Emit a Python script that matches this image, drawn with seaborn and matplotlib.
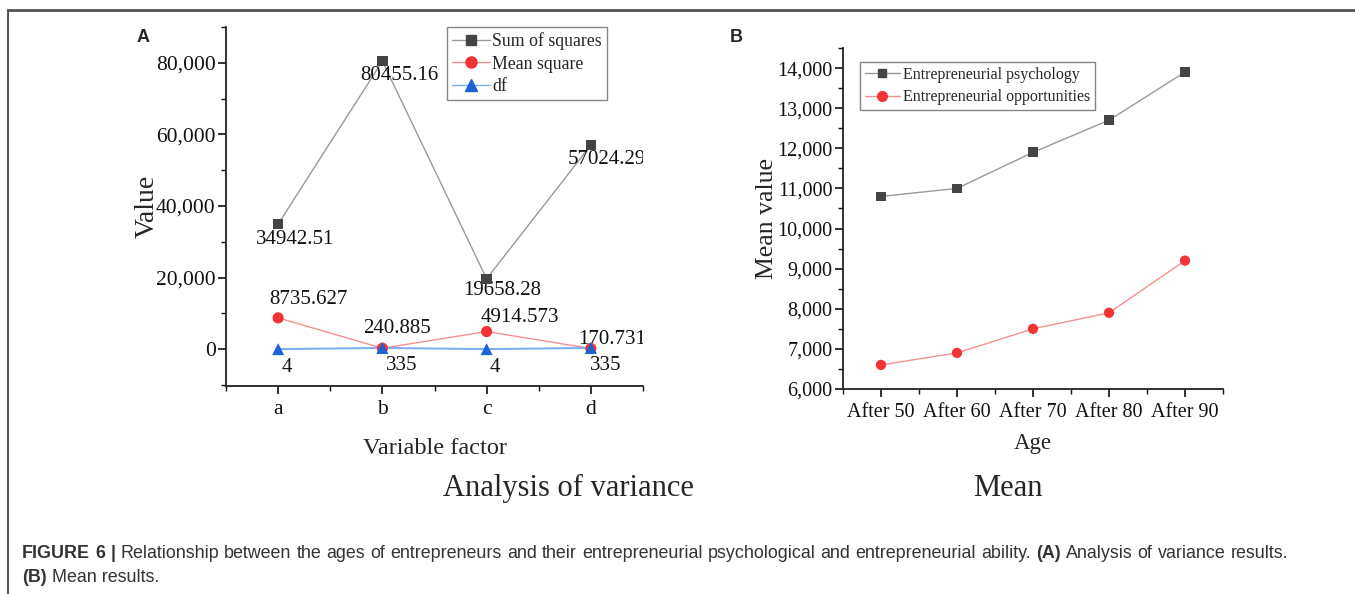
import matplotlib
matplotlib.use("Agg")
import matplotlib.pyplot as plt
from matplotlib.ticker import MultipleLocator, FuncFormatter
from matplotlib.lines import Line2D
import seaborn as sns
import pandas as pd

# ---- data -------------------------------------------------------------
factors = ["a", "b", "c", "d"]
sum_of_squares = [34942.51, 80455.16, 19658.28, 57024.29]
mean_square = [8735.627, 240.885, 4914.573, 170.731]
df_values = [4, 335, 4, 335]

ages = ["After 50", "After 60", "After 70", "After 80", "After 90"]
psychology = [10800, 11000, 11900, 12700, 13900]
opportunities = [6600, 6900, 7500, 7900, 9200]

sns.set_style("ticks")
plt.rcParams["font.family"] = ["Liberation Serif", "DejaVu Serif"]

W, H = 1355, 594
fig = plt.figure(figsize=(W / 100, H / 100), dpi=100)


def fx(px):
    return px / W


def fy(py):
    return 1 - py / H


thousands = FuncFormatter(lambda v, _: f"{v:,.0f}")

GRAY_M, GRAY_L = "#444444", "#9a9a9a"
RED_M, RED_L = "#f03434", "#f59090"
BLUE_M, BLUE_L = "#1d63d6", "#7fb0ee"


def style_axes(ax):
    sns.despine(ax=ax)
    for s in ("left", "bottom"):
        ax.spines[s].set_linewidth(1.3)
        ax.spines[s].set_color("#222222")
    ax.tick_params(which="major", direction="out", length=6, width=1.2,
                   pad=1.5, colors="#111111")
    ax.tick_params(which="minor", direction="out", length=3.5, width=1.0,
                   colors="#111111")
    ax.tick_params(axis="x", which="major", pad=4)
    ax.set_facecolor("white")


# ---- panel A : analysis of variance ----------------------------------
axA = fig.add_axes([fx(226), fy(386), fx(643) - fx(226), fy(27) - fy(386)])
xA = list(range(len(factors)))
dA = pd.DataFrame({"x": xA, "ss": sum_of_squares,
                   "ms": mean_square, "df": df_values})

sns.lineplot(data=dA, x="x", y="ss", ax=axA, color=GRAY_L, lw=1.0)
sns.scatterplot(data=dA, x="x", y="ss", ax=axA, color=GRAY_M, marker="s",
                s=55, edgecolor="none", zorder=5)
sns.lineplot(data=dA, x="x", y="ms", ax=axA, color=RED_L, lw=1.0)
sns.scatterplot(data=dA, x="x", y="ms", ax=axA, color=RED_M, marker="o",
                s=65, edgecolor="none", zorder=5)
sns.lineplot(data=dA, x="x", y="df", ax=axA, color=BLUE_L, lw=1.5)
sns.scatterplot(data=dA, x="x", y="df", ax=axA, color=BLUE_M, marker="^",
                s=75, edgecolor="none", zorder=6)

axA.set_xlim(-0.5, 3.5)
axA.set_ylim(-10300, 90000)
axA.set_xticks(xA)
axA.set_xticklabels(factors)
axA.xaxis.set_minor_locator(MultipleLocator(0.5))
axA.yaxis.set_major_locator(MultipleLocator(20000))
axA.yaxis.set_minor_locator(MultipleLocator(10000))
axA.yaxis.set_major_formatter(thousands)
style_axes(axA)
axA.tick_params(axis="both", which="major", labelsize=15.5)
axA.set_xlabel("Variable factor", fontsize=17.5, labelpad=14)
axA.set_ylabel("Value", fontsize=20, labelpad=-2.5)

label_kw = dict(textcoords="offset pixels", ha="center", va="center",
                fontsize=15, color="#111111", annotation_clip=False,
                clip_on=True)
ss_off = [(17, -15), (17, -14), (16, -12), (16, -14)]
ms_off = [(30, 18), (15, 20), (33, 14), (21, 9)]
df_off = [(9, -18), (19, -18), (8, -18), (15, -18)]
for i in xA:
    axA.annotate(f"{sum_of_squares[i]:.2f}", (i, sum_of_squares[i]),
                 xytext=ss_off[i], **label_kw)
    axA.annotate(f"{mean_square[i]:.3f}", (i, mean_square[i]),
                 xytext=ms_off[i], **label_kw)
    axA.annotate(f"{df_values[i]}", (i, df_values[i]),
                 xytext=df_off[i], **label_kw)

handlesA = [
    Line2D([], [], color=GRAY_L, lw=1.0, marker="s", mfc=GRAY_M, mec=GRAY_M,
           ms=7),
    Line2D([], [], color=RED_L, lw=1.0, marker="o", mfc=RED_M, mec=RED_M,
           ms=8),
    Line2D([], [], color=BLUE_L, lw=1.0, marker="^", mfc=BLUE_M, mec=BLUE_M,
           ms=8),
]
legA = axA.legend(handlesA, ["Sum of squares", "Mean square", "df"],
                  loc="upper left",
                  bbox_to_anchor=((447 - 226) / (643 - 226), 1.0),
                  fontsize=12.8, frameon=True, fancybox=False,
                  handlelength=2.1, handletextpad=0.15, labelspacing=0.3,
                  borderpad=0.3, borderaxespad=0)
legA.get_frame().set_edgecolor("#666666")
legA.get_frame().set_linewidth(1.0)

# ---- panel B : means by age group ------------------------------------
axB = fig.add_axes([fx(843), fy(389), fx(1223) - fx(843), fy(48) - fy(389)])
xB = list(range(len(ages)))
dB = pd.DataFrame({"x": xB, "psy": psychology, "opp": opportunities})

sns.lineplot(data=dB, x="x", y="psy", ax=axB, color=GRAY_L, lw=1.0)
sns.scatterplot(data=dB, x="x", y="psy", ax=axB, color=GRAY_M, marker="s",
                s=50, edgecolor="none", zorder=5)
sns.lineplot(data=dB, x="x", y="opp", ax=axB, color=RED_L, lw=1.0)
sns.scatterplot(data=dB, x="x", y="opp", ax=axB, color=RED_M, marker="o",
                s=55, edgecolor="none", zorder=5)

axB.set_xlim(-0.5, 4.5)
axB.set_ylim(6000, 14500)
axB.set_xticks(xB)
axB.set_xticklabels(ages)
axB.xaxis.set_minor_locator(MultipleLocator(0.5))
axB.yaxis.set_major_locator(MultipleLocator(1000))
axB.yaxis.set_minor_locator(MultipleLocator(500))
axB.yaxis.set_major_formatter(thousands)
style_axes(axB)
axB.tick_params(axis="both", which="major", labelsize=14.5)
axB.set_xlabel("Age", fontsize=16.5, labelpad=8)
axB.set_ylabel("Mean value", fontsize=18.5, labelpad=-0.5)

handlesB = [
    Line2D([], [], color=GRAY_L, lw=1.0, marker="s", mfc=GRAY_M, mec=GRAY_M,
           ms=6),
    Line2D([], [], color=RED_L, lw=1.0, marker="o", mfc=RED_M, mec=RED_M,
           ms=7),
]
legB = axB.legend(handlesB, ["Entrepreneurial psychology",
                             "Entrepreneurial opportunities"],
                  loc="upper left",
                  bbox_to_anchor=((860 - 843) / (1223 - 843),
                                  (389 - 62) / (389 - 48)),
                  fontsize=11.5, frameon=True, fancybox=False,
                  handlelength=2.2, handletextpad=0.2, labelspacing=0.4,
                  borderpad=0.3, borderaxespad=0)
legB.get_frame().set_edgecolor("#666666")
legB.get_frame().set_linewidth(1.0)

# ---- panel letters and panel titles ----------------------------------
sans = ["Liberation Sans", "DejaVu Sans"]
fig.text(fx(143), fy(37), "A", fontsize=13, fontweight="bold", family=sans,
         ha="center", va="center")
fig.text(fx(736), fy(37), "B", fontsize=13, fontweight="bold", family=sans,
         ha="center", va="center")
fig.text(fx(568), fy(488), "Analysis of variance", fontsize=22,
         ha="center", va="center")
fig.text(fx(1008), fy(488), "Mean", fontsize=22, ha="center", va="center")

# ---- caption (first line justified to the text block width) ----------
cap_color = "#333333"
cap_size = 12.9
line1 = [("FIGURE", True), ("6", True), ("|", True),
         ("Relationship", False), ("between", False), ("the", False),
         ("ages", False), ("of", False), ("entrepreneurs", False),
         ("and", False), ("their", False), ("entrepreneurial", False),
         ("psychological", False), ("and", False), ("entrepreneurial", False),
         ("ability.", False), ("(A)", True), ("Analysis", False),
         ("of", False), ("variance", False), ("results.", False)]
left_px, right_px = 22, 1288
cap_y1, cap_y2 = fy(553), fy(577)

fig.canvas.draw()
renderer = fig.canvas.get_renderer()
word_artists = []
for word, bold in line1:
    t = fig.text(0, cap_y1, word, fontsize=cap_size, family=sans,
                 fontweight="bold" if bold else "normal", color=cap_color,
                 va="center", ha="left")
    word_artists.append(t)
widths = [t.get_window_extent(renderer=renderer).width for t in word_artists]
gap = (right_px - left_px - sum(widths)) / (len(word_artists) - 1)
x = left_px
for t, w in zip(word_artists, widths):
    t.set_x(x / W)
    x += w + gap

t5 = fig.text(fx(left_px), cap_y2, "(B)", fontsize=cap_size,
              fontweight="bold", family=sans, color=cap_color, va="center",
              ha="left")
bb5 = t5.get_window_extent(renderer=renderer)
fig.text(bb5.x1 / W, cap_y2, " Mean results.", fontsize=cap_size,
         family=sans, color=cap_color, va="center", ha="left")

# ---- outer frame (top and left rules) --------------------------------
fig.add_artist(Line2D([fx(8), 1.0], [fy(10), fy(10)], color="#555555",
                      lw=2.0, transform=fig.transFigure))
fig.add_artist(Line2D([fx(8), fx(8)], [fy(10), 0.0], color="#555555",
                      lw=1.5, transform=fig.transFigure))

fig.savefig("out.png", dpi=100, facecolor="white")
